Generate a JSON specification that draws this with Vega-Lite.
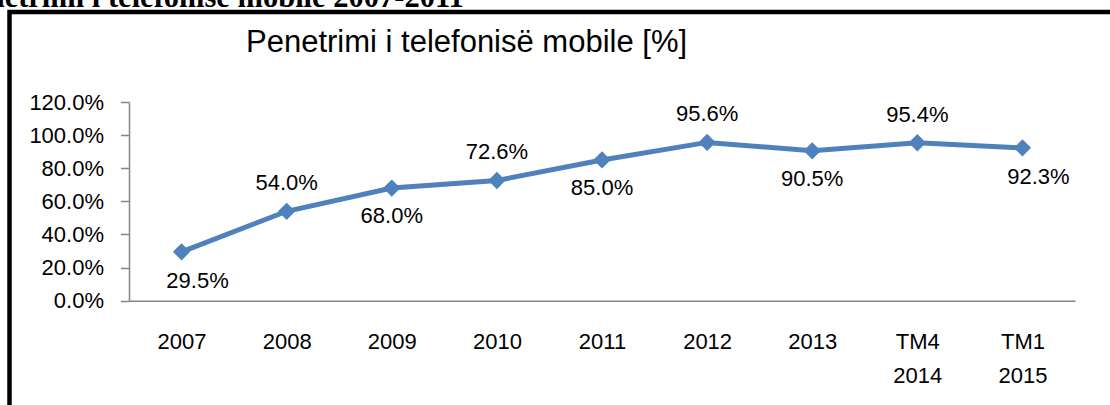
{
  "$schema": "https://vega.github.io/schema/vega-lite/v6.json",
  "width": 1120,
  "height": 413,
  "autosize": {"type": "none"},
  "padding": {"left": 9.5, "top": 12, "right": -19.5, "bottom": -20},
  "background": "white",
  "config": {
    "view": {"stroke": "black", "strokeWidth": 4.5},
    "font": "Liberation Sans"
  },
  "title": {
    "text": "Penetrimi i telefonisë mobile [%]",
    "anchor": "start",
    "frame": "group",
    "dx": 236.5,
    "dy": 51,
    "offset": -50,
    "baseline": "alphabetic",
    "font": "Liberation Sans",
    "fontSize": 31,
    "fontWeight": "normal",
    "color": "black"
  },
  "data": {
    "values": [
      {"period": "2007", "penetration": 0.295},
      {"period": "2008", "penetration": 0.54},
      {"period": "2009", "penetration": 0.68},
      {"period": "2010", "penetration": 0.726},
      {"period": "2011", "penetration": 0.85},
      {"period": "2012", "penetration": 0.956},
      {"period": "2013", "penetration": 0.905},
      {"period": "TM4 2014", "penetration": 0.954},
      {"period": "TM1 2015", "penetration": 0.923}
    ]
  },
  "encoding": {
    "x": {
      "field": "period",
      "type": "ordinal",
      "sort": null,
      "scale": {"type": "point", "padding": 0.5, "range": [119.5, 1065.5]},
      "axis": {
        "title": null,
        "grid": false,
        "domainColor": "#868686",
        "domainWidth": 1.5,
        "ticks": false,
        "tickSize": 0,
        "labelPadding": 31,
        "labelFont": "Liberation Sans",
        "labelFontSize": 22,
        "labelColor": "black",
        "labelAngle": 0,
        "labelExpr": "split(datum.label, ' ')",
        "labelLineHeight": 34,
        "offset": -124.3
      }
    },
    "y": {
      "field": "penetration",
      "type": "quantitative",
      "scale": {"domain": [0, 1.2], "range": [288.7, 90], "nice": false},
      "axis": {
        "title": "Penetrimi i telefonisë mobile 2007-2011",
        "titleAngle": 0,
        "titleAlign": "left",
        "titleBaseline": "alphabetic",
        "titleX": -174,
        "titleY": -6,
        "titleFont": "Liberation Serif",
        "titleFontSize": 30.5,
        "titleFontWeight": "bold",
        "titleColor": "black",
        "values": [0, 0.2, 0.4, 0.6, 0.8, 1.0, 1.2],
        "format": ".1%",
        "grid": false,
        "domainColor": "#868686",
        "domainWidth": 1.5,
        "tickColor": "#868686",
        "tickWidth": 1.5,
        "tickSize": 8.5,
        "labelPadding": 17,
        "labelFont": "Liberation Sans",
        "labelFontSize": 22,
        "labelColor": "black",
        "offset": -119.5
      }
    }
  },
  "layer": [
    {"mark": {"type": "line", "color": "#4F81BD", "strokeWidth": 5}},
    {"mark": {"type": "point", "shape": "diamond", "filled": true, "size": 300, "color": "#4F81BD", "opacity": 1}},
    {
      "transform": [{"filter": {"field": "period", "oneOf": ["2008", "2010", "2012", "TM4 2014"]}}],
      "mark": {"type": "text", "dy": -28, "baseline": "middle", "fontSize": 22, "color": "black", "font": "Liberation Sans"},
      "encoding": {"text": {"field": "penetration", "type": "quantitative", "format": ".1%"}}
    },
    {
      "transform": [{"filter": {"field": "period", "oneOf": ["2009", "2011", "2013"]}}],
      "mark": {"type": "text", "dy": 28, "baseline": "middle", "fontSize": 22, "color": "black", "font": "Liberation Sans"},
      "encoding": {"text": {"field": "penetration", "type": "quantitative", "format": ".1%"}}
    },
    {
      "transform": [{"filter": {"field": "period", "oneOf": ["2007", "TM1 2015"]}}],
      "mark": {"type": "text", "dy": 29, "dx": 16, "baseline": "middle", "fontSize": 22, "color": "black", "font": "Liberation Sans"},
      "encoding": {"text": {"field": "penetration", "type": "quantitative", "format": ".1%"}}
    }
  ]
}
